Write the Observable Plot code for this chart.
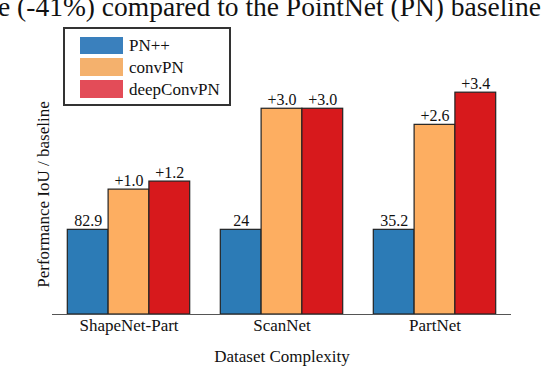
<!DOCTYPE html>
<html><head><meta charset="utf-8">
<script src="https://cdn.jsdelivr.net/npm/d3@7"></script>
<script src="https://cdn.jsdelivr.net/npm/@observablehq/plot@0.6"></script>
<style>
body{margin:0;background:#fff;font-family:"Liberation Serif","Times New Roman",serif;}
#wrap{position:relative;width:544px;height:366px;overflow:hidden;}
#title{position:relative;width:544px;height:22px;overflow:hidden;}
#title span{position:absolute;left:-2px;top:-7.3px;font-size:27.5px;line-height:27.5px;white-space:nowrap;color:#111;}
#chart svg{display:block;}
#legend{position:absolute;left:63px;top:26.7px;width:168px;height:79.3px;border:2px solid #333;box-sizing:border-box;background:#fff;}
.item{position:absolute;left:15px;width:140px;height:17.6px;}
.sw{position:absolute;left:0;top:0;width:42.7px;height:17.6px;}
.lab{position:absolute;left:49px;top:50%;transform:translateY(-50%);font-size:17px;white-space:nowrap;line-height:1;color:#111;}
</style></head>
<body>
<div id="wrap">
  <div id="title"><span>e (-41%) compared to the PointNet (PN) baseline</span></div>
  <div id="chart"></div>
  <div id="legend"></div>
</div>
<script>
const groups = ["ShapeNet-Part", "ScanNet", "PartNet"];
const series = ["PN++", "convPN", "deepConvPN"];
// bar heights relative to the PN++ baseline (as drawn)
const pnpp = [1.0, 1.0, 1.0];
const convPN = [1.475, 2.43, 2.24];
const deepConvPN = [1.57, 2.43, 2.62];
// labels shown above the bars
const pnppLabels = ["82.9", "24", "35.2"];
const convPNLabels = ["+1.0", "+3.0", "+2.6"];
const deepConvPNLabels = ["+1.2", "+3.0", "+3.4"];
const barColors = ["#2c7bb6", "#fdae61", "#d7191c"];
const legendColors = ["#3a80bd", "#f4b16d", "#e34c58"];

const values = [pnpp, convPN, deepConvPN];
const labels = [pnppLabels, convPNLabels, deepConvPNLabels];
const bw = 0.8 / series.length;
const rows = [];
groups.forEach((g, i) => {
  series.forEach((s, j) => {
    const x1 = i + (j - series.length / 2) * bw;
    rows.push({group: g, series: s, x1, x2: x1 + bw, value: values[j][i], label: labels[j][i]});
  });
});
const ticks = groups.map((g, i) => ({i, g}));

const font = '"Liberation Serif","Times New Roman",serif';
const plot = Plot.plot({
  width: 544,
  height: 344,
  marginLeft: 52,
  marginRight: 33,
  marginTop: 38,
  marginBottom: 52,
  style: {fontFamily: font, fontSize: "17px", background: "transparent", color: "#111"},
  x: {domain: [-0.5, 2.5], axis: null},
  y: {domain: [0, 3], axis: null},
  color: {domain: series, range: barColors},
  marks: [
    Plot.rect(rows, {x1: "x1", x2: "x2", y1: 0, y2: "value", fill: "series", stroke: "#222", strokeWidth: 1.2}),
    Plot.ruleY([0], {stroke: "#555", strokeWidth: 1}),
    Plot.text(rows, {x: d => (d.x1 + d.x2) / 2, y: "value", text: "label", lineAnchor: "bottom", dy: -4, fontSize: 16, fill: "#111"}),
    Plot.text(ticks, {x: "i", text: "g", frameAnchor: "bottom", lineAnchor: "top", dy: 4, fontSize: 17, fill: "#111"}),
    Plot.text(["Dataset Complexity"], {frameAnchor: "bottom", dy: 42.5, lineAnchor: "middle", fontSize: 17, fill: "#111"}),
    Plot.text(["Performance IoU / baseline"], {frameAnchor: "left", textAnchor: "middle", rotate: -90, dx: -9, dy: 7, lineAnchor: "middle", fontSize: 17, fill: "#111"})
  ]
});
document.getElementById("chart").appendChild(plot);

const legend = document.getElementById("legend");
series.forEach((s, j) => {
  const item = document.createElement("div");
  item.className = "item";
  item.style.top = (8 + j * 21.65) + "px";
  const sw = document.createElement("div");
  sw.className = "sw";
  sw.style.background = legendColors[j];
  const lab = document.createElement("div");
  lab.className = "lab";
  lab.textContent = s;
  item.appendChild(sw);
  item.appendChild(lab);
  legend.appendChild(item);
});
</script>
</body></html>
